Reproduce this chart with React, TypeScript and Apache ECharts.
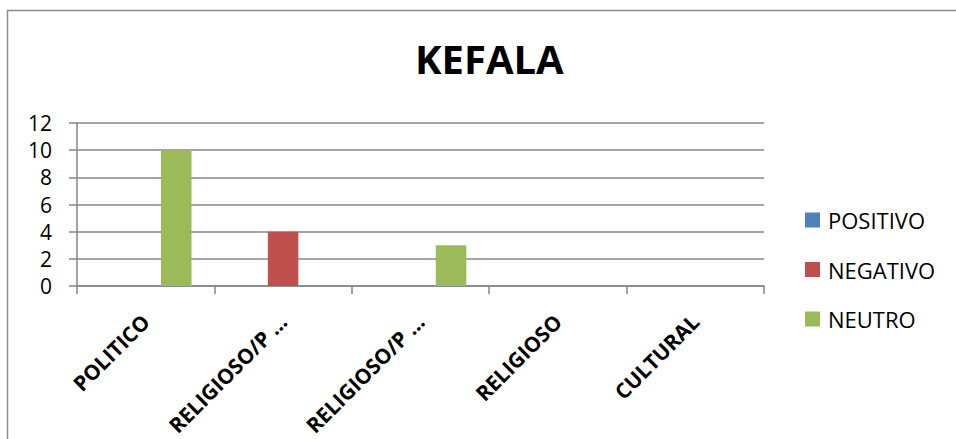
import React, { useEffect, useRef } from "react";
import * as echarts from "echarts";

const categories = ["POLITICO", "RELIGIOSO/P …", "RELIGIOSO/P …", "RELIGIOSO", "CULTURAL"];
const positivo = [0, 0, 0, 0, 0];
const negativo = [0, 4, 0, 0, 0];
const neutro = [10, 0, 3, 0, 0];
const yTicks = { min: 0, max: 12, interval: 2 };

const FONT = "'Open Sans', sans-serif";

export default function App() {
  const ref = useRef<HTMLDivElement>(null);
  useEffect(() => {
    if (!ref.current) return;
    const chart = echarts.init(ref.current, undefined, { renderer: "svg" });
    const mk = (name: string, data: number[], color: string) => ({
      name,
      type: "bar",
      data,
      barGap: "0%",
      barCategoryGap: "33.3%",
      itemStyle: { color },
    });
    chart.setOption({
      animation: false,
      backgroundColor: "#ffffff",
      title: {
        text: "KEFALA",
        left: 415,
        top: 38,
        padding: 0,
        textStyle: { fontFamily: FONT, fontSize: 40, fontWeight: "bold", color: "#000" },
      },
      graphic: [
        {
          type: "rect",
          shape: { x: 7.5, y: 10.5, width: 1000, height: 500 },
          style: { fill: "none", stroke: "#8c8c8c", lineWidth: 1.5 },
          silent: true,
        },
      ],
      legend: {
        orient: "vertical",
        left: 805,
        top: 209,
        padding: 0,
        itemWidth: 15,
        itemHeight: 15,
        itemGap: 27.5,
        icon: "rect",
        data: ["POSITIVO", "NEGATIVO", "NEUTRO"],
        textStyle: { fontFamily: FONT, fontSize: 22, color: "#000", padding: [0, 0, 0, 3] },
      },
      grid: { left: 77, top: 123, width: 687, height: 163, containLabel: false },
      xAxis: {
        type: "category",
        data: categories,
        axisLine: { lineStyle: { color: "#868686", width: 1.5 } },
        axisTick: { show: true, length: 8, lineStyle: { color: "#868686", width: 1.5 } },
        axisLabel: {
          rotate: 45,
          interval: 0,
          margin: 32,
          align: "right",
          verticalAlign: "middle",
          fontFamily: FONT,
          fontSize: 21,
          fontWeight: "bold",
          color: "#000",
        },
      },
      yAxis: {
        type: "value",
        min: yTicks.min,
        max: yTicks.max,
        interval: yTicks.interval,
        axisLine: { show: true, lineStyle: { color: "#868686", width: 1.5 } },
        axisTick: { show: true, length: 8, lineStyle: { color: "#868686", width: 1.5 } },
        splitLine: { lineStyle: { color: "#868686", width: 1.5 } },
        axisLabel: { margin: 25, fontFamily: FONT, fontSize: 21, color: "#000" },
      },
      series: [
        mk("POSITIVO", positivo, "#4F81BD"),
        mk("NEGATIVO", negativo, "#C0504D"),
        mk("NEUTRO", neutro, "#9BBB59"),
      ],
    });
    return () => chart.dispose();
  }, []);
  return (
    <div
      ref={ref}
      style={{ position: "fixed", left: 0, top: 0, width: 956, height: 439, background: "#fff" }}
    />
  );
}
